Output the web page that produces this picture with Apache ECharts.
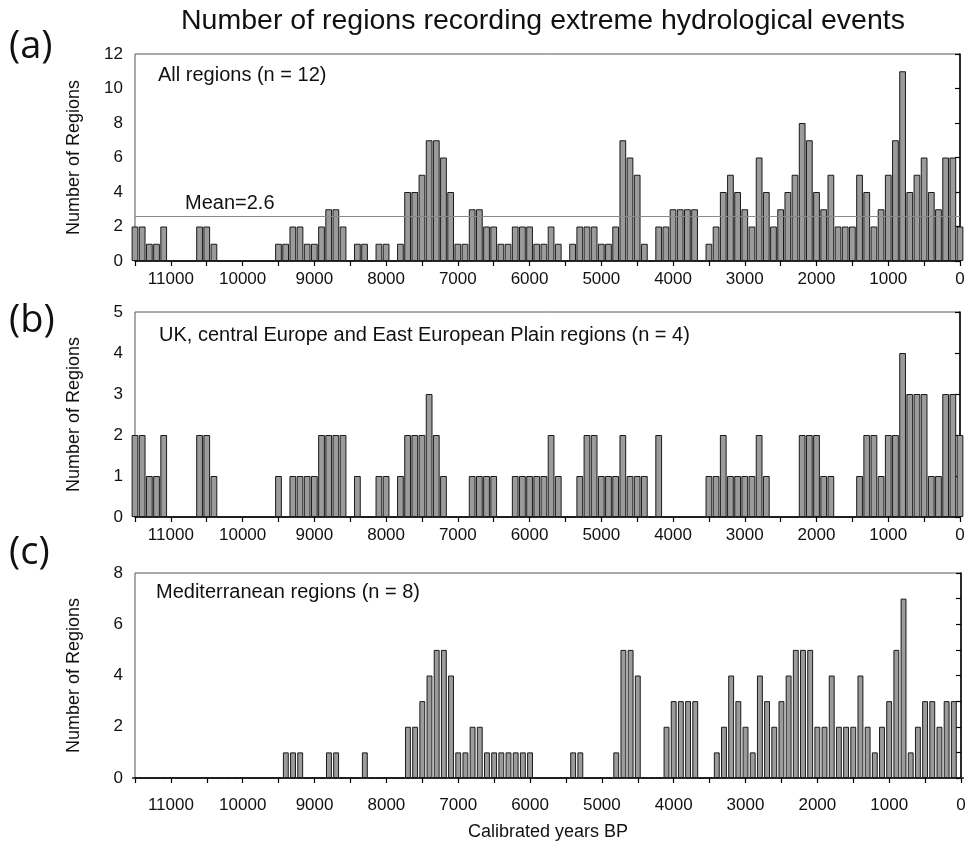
<!DOCTYPE html>
<html>
<head>
<meta charset="utf-8">
<script src="https://cdn.jsdelivr.net/npm/echarts@6.0.0/dist/echarts.min.js"></script>
<style>
  html, body { margin: 0; padding: 0; background: #fff; }
  #chart { width: 973px; height: 854px; }
</style>
</head>
<body>
<div id="chart"></div>
<script>
  // bin centres, calibrated years BP (100-year bins)
  const years = [
    11500, 11400, 11300, 11200, 11100, 11000, 10900, 10800, 10700, 10600,
    10500, 10400, 10300, 10200, 10100, 10000, 9900, 9800, 9700, 9600,
    9500, 9400, 9300, 9200, 9100, 9000, 8900, 8800, 8700, 8600,
    8500, 8400, 8300, 8200, 8100, 8000, 7900, 7800, 7700, 7600,
    7500, 7400, 7300, 7200, 7100, 7000, 6900, 6800, 6700, 6600,
    6500, 6400, 6300, 6200, 6100, 6000, 5900, 5800, 5700, 5600,
    5500, 5400, 5300, 5200, 5100, 5000, 4900, 4800, 4700, 4600,
    4500, 4400, 4300, 4200, 4100, 4000, 3900, 3800, 3700, 3600,
    3500, 3400, 3300, 3200, 3100, 3000, 2900, 2800, 2700, 2600,
    2500, 2400, 2300, 2200, 2100, 2000, 1900, 1800, 1700, 1600,
    1500, 1400, 1300, 1200, 1100, 1000, 900, 800, 700, 600,
    500, 400, 300, 200, 100, 0
  ]
  // (a) all regions
  const allRegions = [
    2, 2, 1, 1, 2, 0, 0, 0, 0, 2,
    2, 1, 0, 0, 0, 0, 0, 0, 0, 0,
    1, 1, 2, 2, 1, 1, 2, 3, 3, 2,
    0, 1, 1, 0, 1, 1, 0, 1, 4, 4,
    5, 7, 7, 6, 4, 1, 1, 3, 3, 2,
    2, 1, 1, 2, 2, 2, 1, 1, 2, 1,
    0, 1, 2, 2, 2, 1, 1, 2, 7, 6,
    5, 1, 0, 2, 2, 3, 3, 3, 3, 0,
    1, 2, 4, 5, 4, 3, 2, 6, 4, 2,
    3, 4, 5, 8, 7, 4, 3, 5, 2, 2,
    2, 5, 4, 2, 3, 5, 7, 11, 4, 5,
    6, 4, 3, 6, 6, 2
  ]
  // (b) UK, central Europe and East European Plain
  const northRegions = [
    2, 2, 1, 1, 2, 0, 0, 0, 0, 2,
    2, 1, 0, 0, 0, 0, 0, 0, 0, 0,
    1, 0, 1, 1, 1, 1, 2, 2, 2, 2,
    0, 1, 0, 0, 1, 1, 0, 1, 2, 2,
    2, 3, 2, 1, 0, 0, 0, 1, 1, 1,
    1, 0, 0, 1, 1, 1, 1, 1, 2, 1,
    0, 0, 1, 2, 2, 1, 1, 1, 2, 1,
    1, 1, 0, 2, 0, 0, 0, 0, 0, 0,
    1, 1, 2, 1, 1, 1, 1, 2, 1, 0,
    0, 0, 0, 2, 2, 2, 1, 1, 0, 0,
    0, 1, 2, 2, 1, 2, 2, 4, 3, 3,
    3, 1, 1, 3, 3, 2
  ]
  // (c) Mediterranean
  const medRegions = [
    0, 0, 0, 0, 0, 0, 0, 0, 0, 0,
    0, 0, 0, 0, 0, 0, 0, 0, 0, 0,
    0, 1, 1, 1, 0, 0, 0, 1, 1, 0,
    0, 0, 1, 0, 0, 0, 0, 0, 2, 2,
    3, 4, 5, 5, 4, 1, 1, 2, 2, 1,
    1, 1, 1, 1, 1, 1, 0, 0, 0, 0,
    0, 1, 1, 0, 0, 0, 0, 1, 5, 5,
    4, 0, 0, 0, 2, 3, 3, 3, 3, 0,
    0, 1, 2, 4, 3, 2, 1, 4, 3, 2,
    3, 4, 5, 5, 5, 2, 2, 4, 2, 2,
    2, 4, 2, 1, 2, 3, 5, 7, 1, 2,
    3, 3, 2, 3, 3, 0
  ]
  const meanAll = 2.6
  const panelTitles = ['All regions (n = 12)', 'UK, central Europe and East European Plain regions (n = 4)', 'Mediterranean regions (n = 8)']
  const panelLetters = ['(a)', '(b)', '(c)']
  const yMax = [12, 5, 8]
  const yStep = [2, 1, 2]

  const font = 'Liberation Sans, Arial, sans-serif'
  const grids = [
    {left: 135, right: 13, top: 54, height: 207},
    {left: 135, right: 13, top: 312, height: 205},
    {left: 135, right: 12, top: 573, height: 205}
  ]

  let chart = echarts.init(document.getElementById('chart'), null, {renderer: 'canvas'})

  let xAxes = grids.map((g, i) => ({
    type: 'value',
    gridIndex: i,
    inverse: true,
    min: 0,
    max: 11500,
    interval: 500,
    axisLine: {lineStyle: {color: '#000', width: 1.5}},
    axisTick: {length: 5, lineStyle: {color: '#000', width: 1.2}},
    axisLabel: {
      formatter: v => (v % 1000 === 0 ? String(v) : ''),
      fontFamily: font,
      fontSize: 17,
      color: '#111',
      margin: i === 2 ? 19 : 10
    },
    splitLine: {show: false},
    name: i === 2 ? 'Calibrated years BP' : '',
    nameLocation: 'middle',
    nameGap: 45,
    nameTextStyle: {fontFamily: font, fontSize: 18, color: '#111'}
  }))

  let yAxes = grids.map((g, i) => ({
    type: 'value',
    gridIndex: i,
    min: 0,
    max: yMax[i],
    interval: yStep[i],
    axisLine: {show: true, lineStyle: {color: '#000', width: 1.5}},
    axisTick: {show: true, length: 5, lineStyle: {color: '#000', width: 1.2}},
    minorTick: {show: i === 2, splitNumber: 2, length: 5, lineStyle: {color: '#000', width: 1.2}},
    axisLabel: {fontFamily: font, fontSize: 17, color: '#111', margin: 12},
    splitLine: {show: false},
    name: 'Number of Regions',
    nameLocation: 'middle',
    nameGap: 52,
    nameTextStyle: {fontFamily: font, fontSize: 18, color: '#111'}
  }))

  let barStyle = {color: '#9b9b9b', borderColor: '#1a1a1a', borderWidth: 1}
  let series = [allRegions, northRegions, medRegions].map((vals, i) => ({
    type: 'bar',
    xAxisIndex: i,
    yAxisIndex: i,
    data: years.map((y, k) => [y, vals[k]]),
    barCategoryGap: i === 2 ? '18%' : '6%',
    itemStyle: barStyle,
    clip: true,
    silent: true
  }))
  series[0].markLine = {
    silent: true,
    symbol: 'none',
    data: [[{coord: [years[0], meanAll]}, {coord: [years[years.length - 1], meanAll]}]],
    lineStyle: {color: '#8a8a8a', width: 1.2, type: 'solid'},
    label: {
      formatter: 'Mean=' + meanAll,
      position: 'insideStartTop',
      distance: [50, 3],
      fontFamily: font,
      fontSize: 20,
      color: '#111'
    }
  }

  let titles = [{
    text: 'Number of regions recording extreme hydrological events',
    left: 543,
    textAlign: 'center',
    top: 7,
    padding: 0,
    textStyle: {fontFamily: font, fontSize: 28.5, fontWeight: 'normal', color: '#111'}
  }]
  panelLetters.forEach((t, i) => {
    titles.push({
      text: t,
      left: 9,
      top: [28, 302, 534][i],
      padding: 0,
      textStyle: {fontFamily: 'Open Sans, sans-serif', fontSize: 38, fontWeight: 'normal', color: '#111'}
    })
  })
  panelTitles.forEach((t, i) => {
    titles.push({
      text: t,
      left: [158, 159, 156][i],
      top: [65, 325, 582][i],
      padding: 0,
      textStyle: {fontFamily: font, fontSize: 20, fontWeight: 'normal', color: '#111'}
    })
  })

  chart.setOption({
    animation: false,
    backgroundColor: '#fff',
    title: titles,
    grid: grids.map(g => Object.assign({show: true, borderColor: '#555', borderWidth: 1, backgroundColor: 'transparent'}, g)),
    xAxis: xAxes,
    yAxis: yAxes,
    series: series
  })
</script>
</body>
</html>
